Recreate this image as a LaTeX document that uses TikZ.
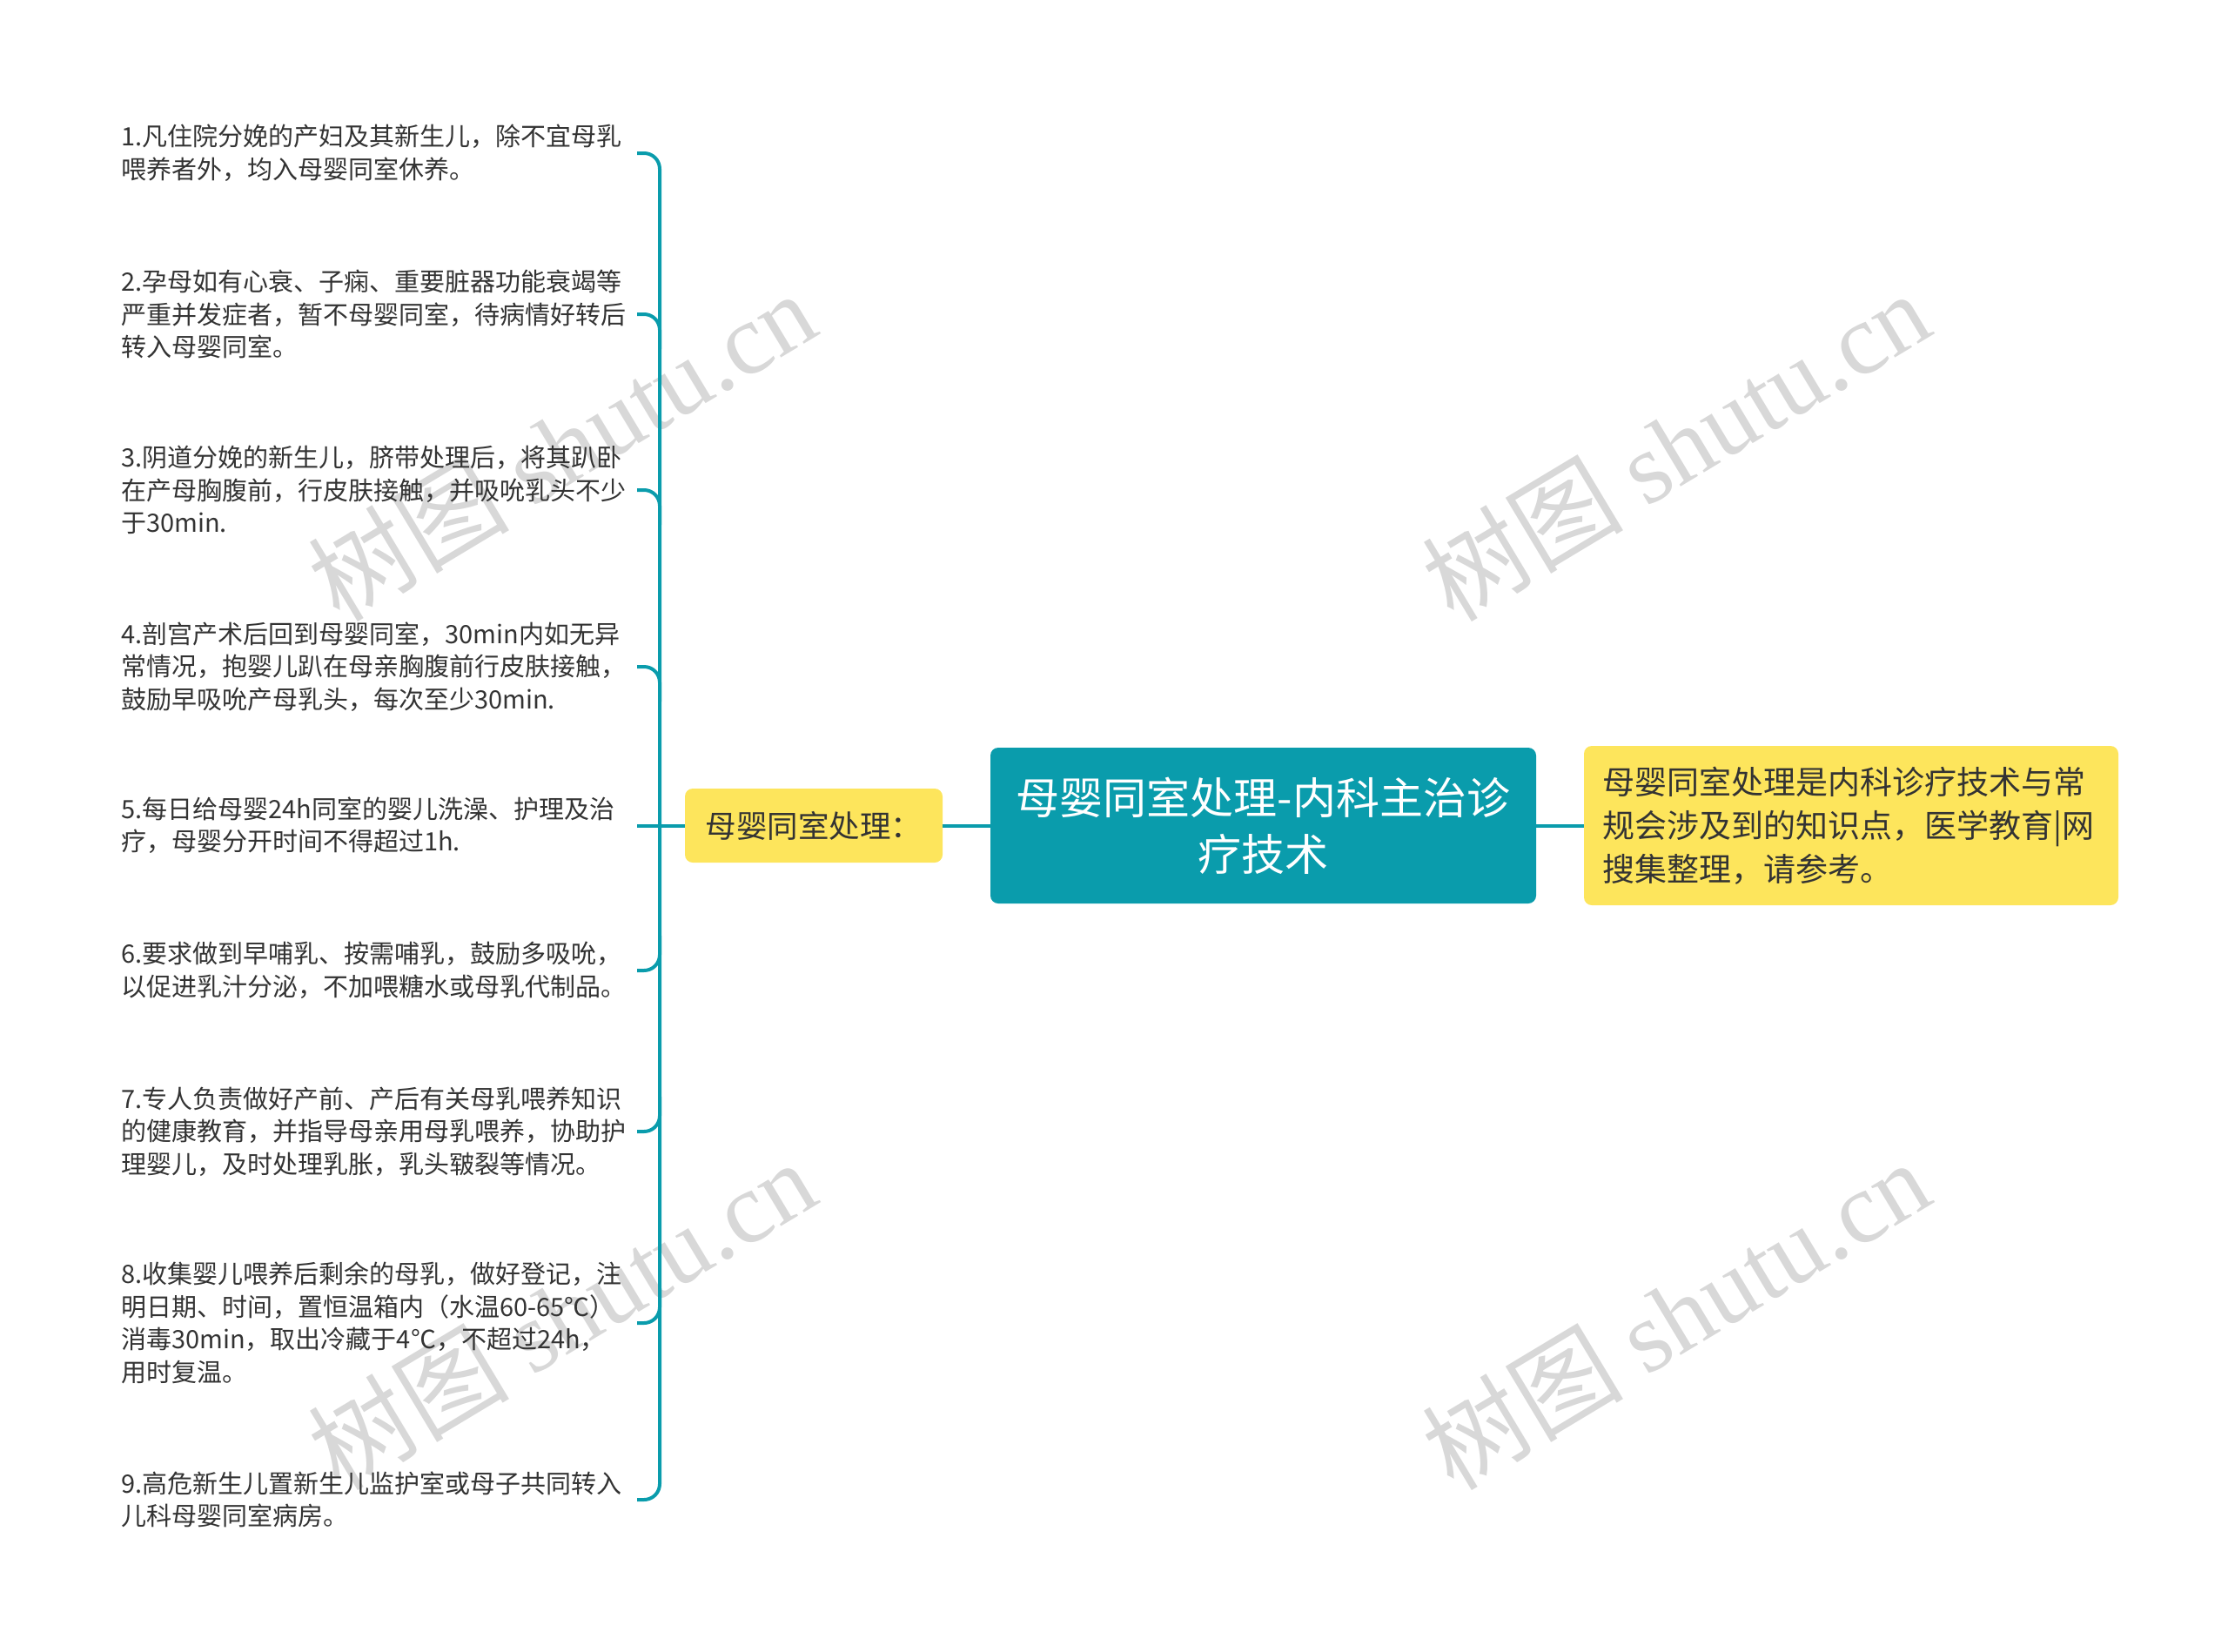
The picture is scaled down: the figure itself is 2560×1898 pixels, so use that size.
\documentclass[tikz,border=0pt]{standalone}
\usepackage{fontspec}
\setmainfont{Noto Sans CJK SC}
\newfontfamily\wmlatin{Liberation Serif}
\definecolor{mmteal}{RGB}{10,156,172}
\definecolor{mmyellow}{RGB}{253,229,92}
\definecolor{mmtext}{RGB}{51,51,51}
\definecolor{mmwm}{RGB}{216,216,216}
\begin{document}
\begin{tikzpicture}[x=1pt,y=-1pt,
  item/.style={anchor=west, align=left, inner sep=0pt, text=mmtext,
    font=\fontsize{29}{37.5}\selectfont},
  conn/.style={draw=mmteal, line width=4pt, rounded corners=18pt},
  yelbox/.style={fill=mmyellow, rounded corners=9pt, text=mmtext, inner sep=0pt},
  wm/.style={text=mmwm, rotate=31, font=\fontsize{116}{116}\selectfont, inner sep=0pt}
]
\useasboundingbox (0,0) rectangle (2560,1898);

% watermarks
\node[wm] (wm1) at (645,512) {树图 {\wmlatin shutu.cn}};
\node[wm] (wm2) at (1925,512) {树图 {\wmlatin shutu.cn}};
\node[wm] (wm3) at (645,1510) {树图 {\wmlatin shutu.cn}};
\node[wm] (wm4) at (1925,1510) {树图 {\wmlatin shutu.cn}};

% central nodes
\node[fill=mmteal, rounded corners=9pt, text=white, align=center,
  minimum width=627, minimum height=179, inner sep=0pt,
  font=\fontsize{50}{65}\selectfont] (root) at (1451.5,948.5)
  {母婴同室处理-内科主治诊\\疗技术};
\node[yelbox, minimum width=296, minimum height=85,
  font=\fontsize{35.5}{40}\selectfont] (left) at (935,948.5) {母婴同室处理：};
\node[yelbox, minimum width=614, minimum height=183, align=left,
  text width=572, inner xsep=21pt,
  font=\fontsize{37}{50}\selectfont] (right) at (2127,948.5)
  {母婴同室处理是内科诊疗技术与常\\规会涉及到的知识点，医学教育|网\\搜集整理，请参考。};

% items
\node[item] (i1) at (139,176) {1.凡住院分娩的产妇及其新生儿，除不宜母乳\\喂养者外，均入母婴同室休养。};
\node[item] (i2) at (139,361) {2.孕母如有心衰、子痫、重要脏器功能衰竭等\\严重并发症者，暂不母婴同室，待病情好转后\\转入母婴同室。};
\node[item] (i3) at (139,563) {3.阴道分娩的新生儿，脐带处理后，将其趴卧\\在产母胸腹前，行皮肤接触，并吸吮乳头不少\\于30min.};
\node[item] (i4) at (139,766) {4.剖宫产术后回到母婴同室，30min内如无异\\常情况，抱婴儿趴在母亲胸腹前行皮肤接触，\\鼓励早吸吮产母乳头，每次至少30min.};
\node[item] (i5) at (139,948) {5.每日给母婴24h同室的婴儿洗澡、护理及治\\疗，母婴分开时间不得超过1h.};
\node[item] (i6) at (139,1115) {6.要求做到早哺乳、按需哺乳，鼓励多吸吮，\\以促进乳汁分泌，不加喂糖水或母乳代制品。};
\node[item] (i7) at (139,1300) {7.专人负责做好产前、产后有关母乳喂养知识\\的健康教育，并指导母亲用母乳喂养，协助护\\理婴儿，及时处理乳胀，乳头皲裂等情况。};
\node[item] (i8) at (139,1520) {8.收集婴儿喂养后剩余的母乳，做好登记，注\\明日期、时间，置恒温箱内（水温60-65℃）\\消毒30min，取出冷藏于4℃，不超过24h，\\用时复温。};
\node[item] (i9) at (139,1723) {9.高危新生儿置新生儿监护室或母子共同转入\\儿科母婴同室病房。};

% bracket coordinates
\foreach \k/\yy in {1/176,2/361,3/563,4/766,5/948.5,6/1115,7/1300,8/1520,9/1723}{
  \coordinate (t\k) at (732,\yy);
  \coordinate (b\k) at (758,\yy);
}
\coordinate (b2d) at (758,401);
\coordinate (b3d) at (758,603);
\coordinate (b4d) at (758,806);
\coordinate (b6u) at (758,1075);
\coordinate (b7u) at (758,1260);
\coordinate (b8u) at (758,1480);

% connectors
\draw[conn] (t1) -- (b1) -- (b9) -- (t9);
\draw[conn] (t2) -- (b2) -- (b2d);
\draw[conn] (t3) -- (b3) -- (b3d);
\draw[conn] (t4) -- (b4) -- (b4d);
\draw[conn] (t6) -- (b6) -- (b6u);
\draw[conn] (t7) -- (b7) -- (b7u);
\draw[conn] (t8) -- (b8) -- (b8u);
\draw[conn] (t5) -- (left.west);
\draw[conn] (left.east) -- (root.west);
\draw[conn] (root.east) -- (right.west);
\end{tikzpicture}
\end{document}
